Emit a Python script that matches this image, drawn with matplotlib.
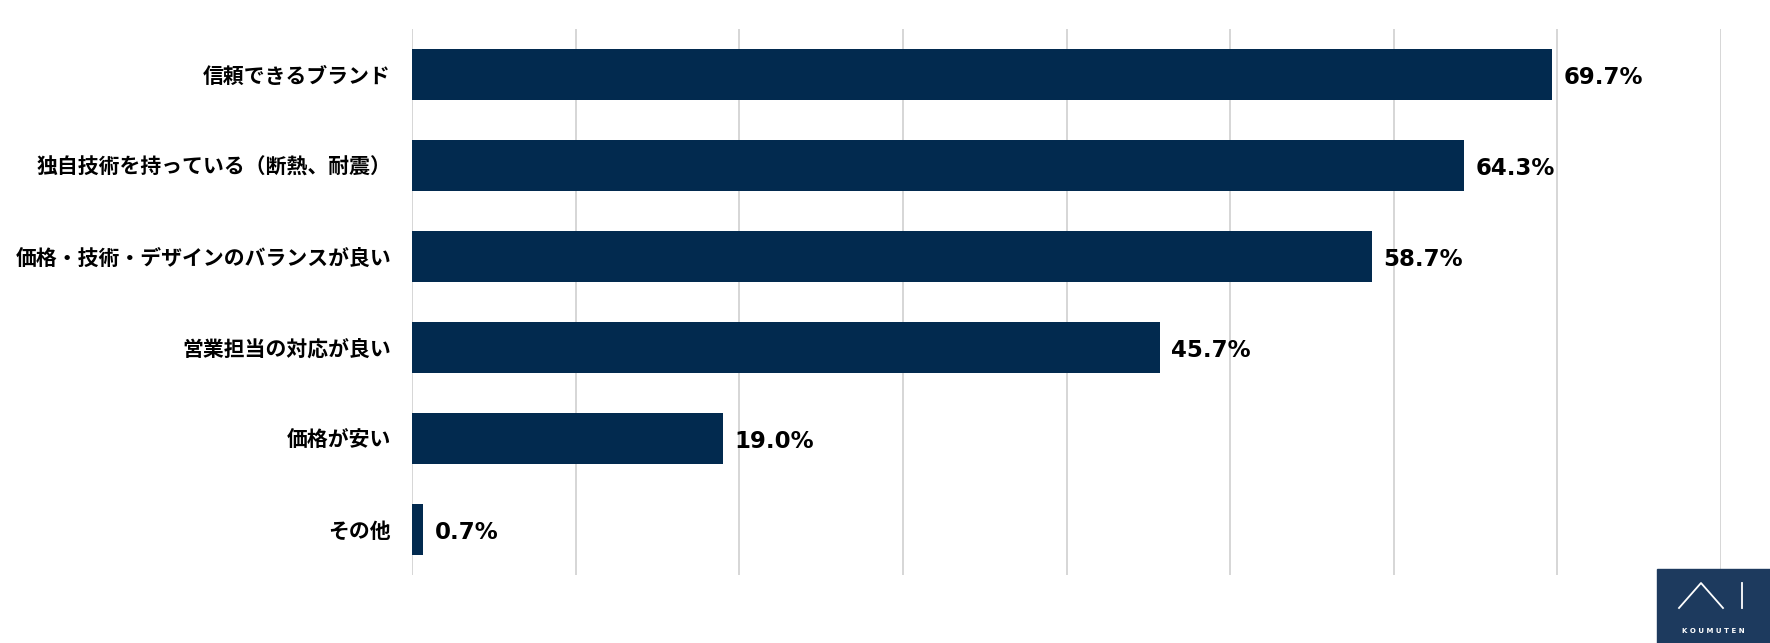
import matplotlib
matplotlib.use("Agg")
import matplotlib.pyplot as plt
from matplotlib.patches import Rectangle
from matplotlib.lines import Line2D

plt.rcParams['font.family'] = ['Noto Sans CJK JP', 'DejaVu Sans']

categories = ["信頼できるブランド",
              "独自技術を持っている（断熱、耐震）",
              "価格・技術・デザインのバランスが良い",
              "営業担当の対応が良い",
              "価格が安い",
              "その他"]
values = [69.7, 64.3, 58.7, 45.7, 19.0, 0.7]
value_labels = ["69.7%", "64.3%", "58.7%", "45.7%", "19.0%", "0.7%"]

navy = "#022a4f"

fig = plt.figure(figsize=(17.7, 6.43), dpi=100)
ax = fig.add_axes([412/1770, 68/643, (1721-412)/1770, (575-29)/643])

ypos = list(range(len(categories)))
ax.barh(ypos, values, height=0.56, color=navy, zorder=3)
ax.set_ylim(len(categories) - 0.5, -0.5)
ax.set_xlim(0, 80)
ax.set_xticks(range(0, 81, 10))
ax.set_xticklabels([])
ax.tick_params(axis='x', length=0)
ax.tick_params(axis='y', length=0, pad=15)
ax.set_yticks(ypos)
ax.set_yticklabels(categories, fontsize=15, fontweight='bold')
ax.grid(axis='x', color='#d6d6d6', linewidth=1.4, zorder=0)
for s in ax.spines.values():
    s.set_visible(False)

for y, v, lab in zip(ypos, values, value_labels):
    ax.annotate(lab, (v, y), xytext=(8, -2), textcoords='offset points',
                va='center', ha='left', fontsize=16.5, fontweight='bold',
                family='DejaVu Sans', color='black')

# logo box, bottom right
fig.patches.append(Rectangle((1657/1770, 0), 113/1770, 74/643,
                             transform=fig.transFigure, color='#1d3a5e'))
fig.lines.append(Line2D([1679/1770, 1701/1770, 1723/1770],
                        [1 - 608/643, 1 - 583/643, 1 - 608/643],
                        transform=fig.transFigure, color='white', lw=1.3))
fig.lines.append(Line2D([1742/1770, 1742/1770], [1 - 608/643, 1 - 583/643],
                        transform=fig.transFigure, color='white', lw=1.3))
fig.text(1713/1770, 1 - 631/643, "K O U M U T E N", color='white',
         fontsize=5, fontweight='bold', ha='center', va='center',
         family='DejaVu Sans')

fig.savefig("out.png", dpi=100)
